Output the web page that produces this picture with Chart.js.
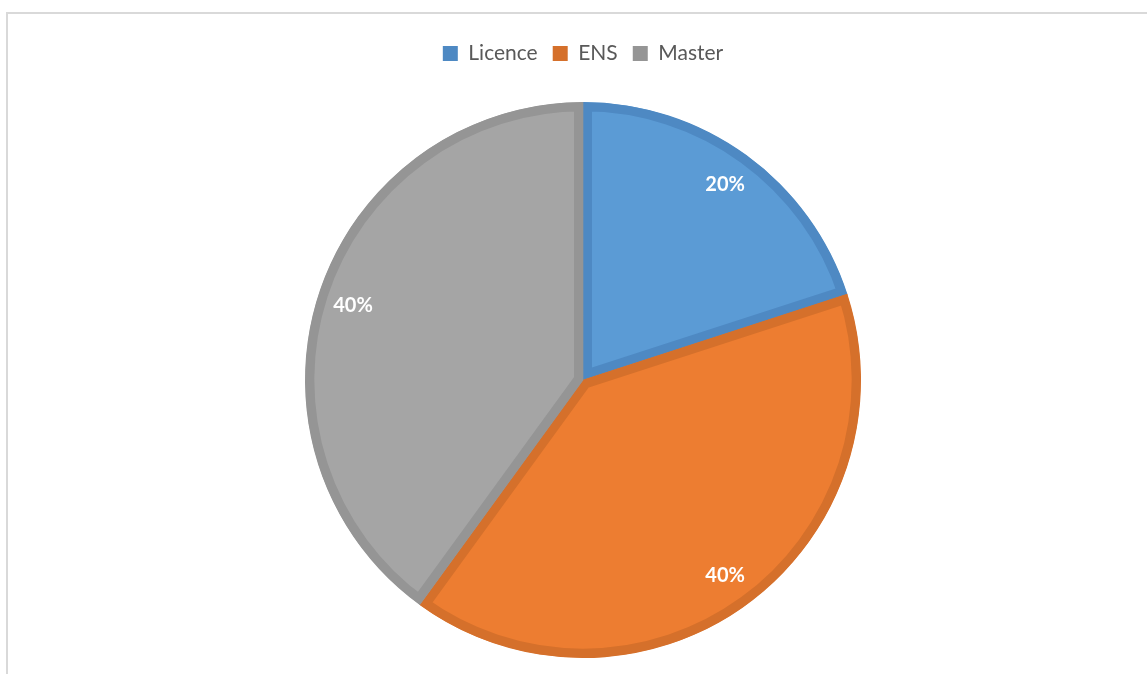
<!DOCTYPE html>
<html>
<head>
<meta charset="utf-8">
<script src="https://cdn.jsdelivr.net/npm/chart.js@4"></script>
<style>
  html, body { margin: 0; padding: 0; background: #ffffff; overflow: hidden; }
  #wrap { position: relative; width: 1147px; height: 674px; }
  #frame { position: absolute; left: 6px; top: 12px; width: 1200px; height: 700px;
           border-top: 2px solid #d9d9d9; border-left: 2px solid #d9d9d9; box-sizing: border-box; }
  canvas { position: absolute; left: 0; top: 0; }
</style>
</head>
<body>
<div id="wrap">
  <div id="frame"></div>
  <canvas id="c" width="1147" height="674"></canvas>
</div>
<script>
const categories = ['Licence', 'ENS', 'Master'];
const values = [20, 40, 40];
const fillColors = ['#5b9bd5', '#ed7d31', '#a5a5a5'];
const borderColors = ['#4e89c3', '#d5702b', '#959595'];

const legendHeightPlugin = {
  id: 'legendHeight',
  beforeInit(chart) {
    const origFit = chart.legend.fit;
    chart.legend.fit = function () {
      origFit.bind(chart.legend)();
      this.height = 74;
    };
  }
};

const pctLabels = {
  id: 'pctLabels',
  afterDatasetsDraw(chart) {
    const ctx = chart.ctx;
    const meta = chart.getDatasetMeta(0);
    const data = chart.data.datasets[0].data;
    const total = data.reduce((a, b) => a + b, 0);
    ctx.save();
    ctx.fillStyle = '#ffffff';
    ctx.font = 'bold 20px Lato, "Open Sans", sans-serif';
    ctx.textAlign = 'center';
    ctx.textBaseline = 'middle';
    meta.data.forEach((arc, i) => {
      const p = arc.getProps(['x', 'y', 'startAngle', 'endAngle', 'outerRadius'], true);
      const mid = (p.startAngle + p.endAngle) / 2;
      const r = p.outerRadius * 0.87;
      const x = p.x + Math.cos(mid) * r;
      const y = p.y + Math.sin(mid) * r;
      ctx.fillText(Math.round(data[i] / total * 100) + '%', x, y);
    });
    ctx.restore();
  }
};

new Chart(document.getElementById('c'), {
  type: 'pie',
  data: {
    labels: categories,
    datasets: [{
      data: values,
      backgroundColor: fillColors,
      borderColor: borderColors,
      borderWidth: 9,
      borderAlign: 'inner',
      hoverOffset: 0,
      offset: 0
    }]
  },
  options: {
    responsive: false,
    animation: false,
    events: [],
    layout: { padding: { top: 28, bottom: 16, left: 19, right: 0 } },
    plugins: {
      legend: {
        position: 'top',
        labels: {
          boxWidth: 15,
          boxHeight: 15,
          padding: 15,
          color: '#595959',
          font: { family: 'Lato, "Open Sans", sans-serif', size: 21 },
          generateLabels(chart) {
            return chart.data.labels.map((label, i) => ({
              text: label,
              fillStyle: borderColors[i],
              strokeStyle: borderColors[i],
              lineWidth: 0,
              fontColor: '#595959',
              hidden: false,
              index: i
            }));
          }
        }
      },
      tooltip: { enabled: false }
    }
  },
  plugins: [legendHeightPlugin, pctLabels]
});
</script>
</body>
</html>
